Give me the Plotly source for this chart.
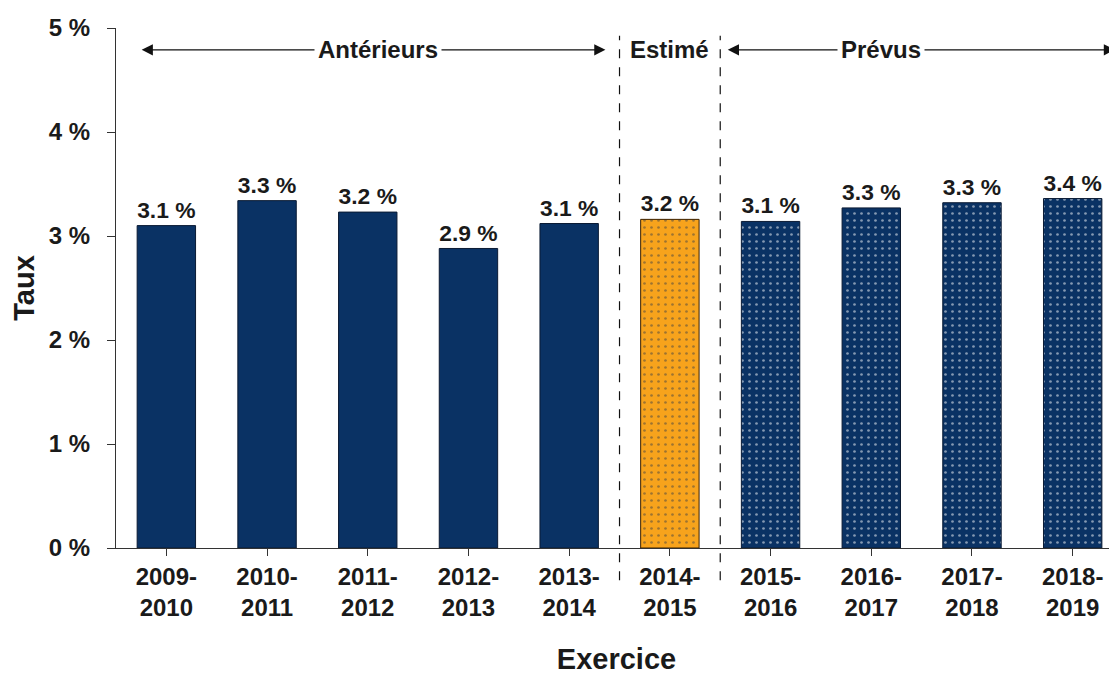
import plotly.graph_objects as go

categories = ["2009-<br>2010", "2010-<br>2011", "2011-<br>2012", "2012-<br>2013", "2013-<br>2014",
              "2014-<br>2015", "2015-<br>2016", "2016-<br>2017", "2017-<br>2018", "2018-<br>2019"]
values = [3.1, 3.34, 3.23, 2.88, 3.12, 3.16, 3.14, 3.27, 3.32, 3.36]
labels = ["3.1 %", "3.3 %", "3.2 %", "2.9 %", "3.1 %", "3.2 %", "3.1 %", "3.3 %", "3.3 %", "3.4 %"]
kinds = ["past"] * 5 + ["est"] + ["plan"] * 4
y_ticks = [0, 1, 2, 3, 4, 5]
y_ticktext = ["0 %", "1 %", "2 %", "3 %", "4 %", "5 %"]

NAVY = "#0a3264"
ORANGE = "#f7a31c"
FONT = "Arial, Liberation Sans, sans-serif"
INK = "#1a1a1a"

colors = [ORANGE if k == "est" else NAVY for k in kinds]
shapes_p = ["" if k == "past" else "." for k in kinds]
fg = ["#4a2a00" if k == "est" else "#ffffff" for k in kinds]
line_c = ["#3a2000" if k == "est" else "#0a1a33" for k in kinds]

x = list(range(len(categories)))

fig = go.Figure()
fig.add_trace(go.Bar(
    x=x, y=values, width=0.58,
    marker=dict(color=colors, line=dict(color=line_c, width=1),
                pattern=dict(shape=shapes_p, fgcolor=fg, bgcolor=colors,
                             size=7, solidity=0.12, fillmode="overlay")),
    text=labels, textposition="outside", cliponaxis=False,
    textfont=dict(family=FONT, size=23, color=INK, weight="bold"),
    hoverinfo="skip",
))

# dashed separators between periods
for xb in (4.5, 5.5):
    fig.add_shape(type="line", xref="x", yref="paper", x0=xb, x1=xb, y0=-0.062, y1=0.985,
                  line=dict(color="#111111", width=1.2, dash="dash"), layer="above")

arrow_y = 4.79
def dbl_arrow(x0, x1):
    fig.add_annotation(x=x1, y=arrow_y, ax=x0, ay=arrow_y, xref="x", yref="y",
                       axref="x", ayref="y", text="", showarrow=True,
                       arrowhead=2, startarrowhead=2, arrowside="end+start",
                       arrowsize=1.6, startarrowsize=1.6, arrowwidth=1.4, arrowcolor="#111111")

dbl_arrow(-0.26, 4.36)
dbl_arrow(5.56, 9.42)

for txt, xc in (("Antérieurs", 2.1), ("Estimé", 5.0), ("Prévus", 7.1)):
    fig.add_annotation(x=xc, y=arrow_y, xref="x", yref="y", text=txt, showarrow=False,
                       bgcolor="white", borderpad=3,
                       font=dict(family=FONT, size=24, color=INK, weight="bold"))

fig.update_layout(
    width=1109, height=667,
    margin=dict(l=108, r=0, t=20, b=127, autoexpand=False),
    paper_bgcolor="white", plot_bgcolor="white",
    showlegend=False,
    xaxis=dict(
        range=[-0.5, 9.44], tickmode="array", tickvals=x, ticktext=categories,
        tickson="boundaries", ticks="outside", ticklen=7, tickcolor="#333333",
        showline=True, linecolor="#333333", linewidth=1.2, showgrid=False,
        automargin=False,
        tickfont=dict(family=FONT, size=24, color=INK, weight="bold"),
        title=dict(text="Exercice", standoff=32,
                   font=dict(family=FONT, size=29, color=INK, weight="bold")),
        zeroline=False,
    ),
    yaxis=dict(
        range=[0, 5], tickmode="array", tickvals=y_ticks, ticktext=y_ticktext,
        ticks="outside", ticklen=8, tickcolor="#333333", ticklabelstandoff=12,
        showline=True, linecolor="#333333", linewidth=1.2, showgrid=False, zeroline=False,
        automargin=False,
        tickfont=dict(family=FONT, size=24, color=INK, weight="bold"),
        title=dict(text="Taux", standoff=8,
                   font=dict(family=FONT, size=29, color=INK, weight="bold")),
    ),
)

fig.write_html("out.html")
